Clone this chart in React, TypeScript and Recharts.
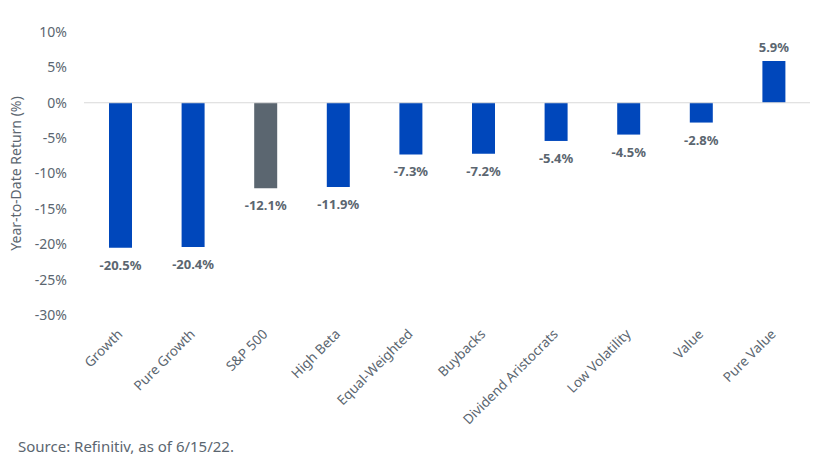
import React from "react";
import {
  BarChart,
  Bar,
  XAxis,
  YAxis,
  Cell,
  LabelList,
  ReferenceLine,
} from "recharts";

const categories = [
  "Growth",
  "Pure Growth",
  "S&P 500",
  "High Beta",
  "Equal-Weighted",
  "Buybacks",
  "Dividend Aristocrats",
  "Low Volatility",
  "Value",
  "Pure Value",
];
const returns = [-20.5, -20.4, -12.1, -11.9, -7.3, -7.2, -5.4, -4.5, -2.8, 5.9];
const yTicks = [-30, -25, -20, -15, -10, -5, 0, 5, 10];
const benchmark = "S&P 500";

const BLUE = "#0047BB";
const GRAY = "#5B6670";
const TEXT = "#5B6670";
const FONT = "'Noto Sans', 'Open Sans', sans-serif";

const data = categories.map((name, i) => ({ name, value: returns[i] }));

// value label under negative bars, above positive ones
const ValueLabel = (props: any) => {
  const { x, y, width, height, value } = props;
  const top = Math.min(y, y + height);
  const bottom = Math.max(y, y + height);
  const cx = x + width / 2;
  const ty = value < 0 ? bottom + 22 : top - 9;
  return (
    <text
      x={cx}
      y={ty}
      textAnchor="middle"
      fill={TEXT}
      style={{ fontFamily: FONT, fontSize: 13, fontWeight: 700 }}
    >
      {`${value.toFixed(1)}%`}
    </text>
  );
};

const XTick = (props: any) => {
  const { x, y, payload } = props;
  return (
    <g transform={`translate(${x + 3},${y + 12})`}>
      <text
        x={0}
        y={0}
        textAnchor="end"
        transform="rotate(-45)"
        fill={TEXT}
        style={{ fontFamily: FONT, fontSize: 13.5 }}
      >
        {payload.value}
      </text>
    </g>
  );
};

export default function App() {
  return (
    <div
      style={{
        position: "absolute",
        left: 0,
        top: 0,
        width: 821,
        height: 470,
        background: "#fff",
      }}
    >
      <BarChart
        width={821}
        height={470}
        data={data}
        margin={{ top: 32, right: 11, left: 0, bottom: 0 }}
      >
        <XAxis
          dataKey="name"
          axisLine={false}
          tickLine={false}
          interval={0}
          height={155}
          tick={<XTick />}
        />
        <YAxis
          width={84}
          domain={[-30, 10]}
          ticks={yTicks}
          axisLine={false}
          tickLine={false}
          tickSize={0}
          tickMargin={17}
          tickFormatter={(v: number) => `${v}%`}
          tick={{ fill: TEXT, fontSize: 14, fontFamily: FONT }}
          label={{
            value: "Year-to-Date Return (%)",
            angle: -90,
            position: "insideLeft",
            offset: 16,
            style: {
              fill: TEXT,
              fontSize: 14,
              fontFamily: FONT,
              textAnchor: "middle",
            },
          }}
        />
        <ReferenceLine y={0} stroke="#D9D9D9" strokeWidth={1} />
        <Bar dataKey="value" barSize={23} isAnimationActive={false}>
          {data.map((d) => (
            <Cell key={d.name} fill={d.name === benchmark ? GRAY : BLUE} />
          ))}
          <LabelList dataKey="value" content={<ValueLabel />} />
        </Bar>
      </BarChart>
      <div
        style={{
          position: "absolute",
          left: 18,
          top: 436,
          fontFamily: FONT,
          fontSize: 15,
          color: TEXT,
        }}
      >
        Source: Refinitiv, as of 6/15/22.
      </div>
    </div>
  );
}
